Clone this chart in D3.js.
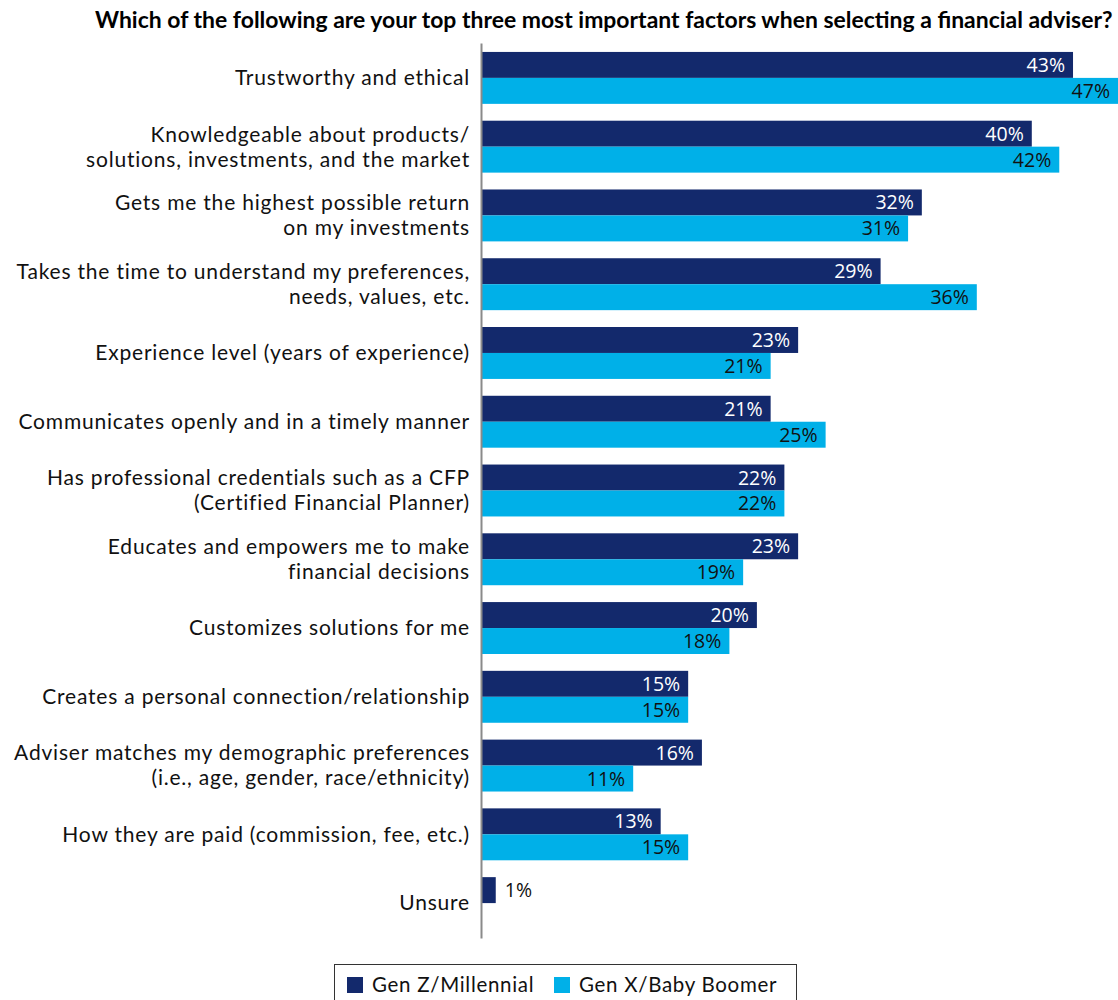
<!DOCTYPE html>
<html>
<head>
<meta charset="utf-8">
<script src="https://cdn.jsdelivr.net/npm/d3@7"></script>
<style>
  body { margin: 0; background: #fff; }
  svg { display: block; }
</style>
</head>
<body>
<svg id="chart" width="1118" height="1000"></svg>
<script>
// Survey question and answer categories (line breaks mark wrapped labels)
const title = "Which of the following are your top three most important factors when selecting a financial adviser?";
const categories = [
  "Trustworthy and ethical",
  "Knowledgeable about products/\nsolutions, investments, and the market",
  "Gets me the highest possible return\non my investments",
  "Takes the time to understand my preferences,\nneeds, values, etc.",
  "Experience level (years of experience)",
  "Communicates openly and in a timely manner",
  "Has professional credentials such as a CFP\n(Certified Financial Planner)",
  "Educates and empowers me to make\nfinancial decisions",
  "Customizes solutions for me",
  "Creates a personal connection/relationship",
  "Adviser matches my demographic preferences\n(i.e., age, gender, race/ethnicity)",
  "How they are paid (commission, fee, etc.)",
  "Unsure"
];
const seriesNames = ["Gen Z/Millennial", "Gen X/Baby Boomer"];
// Percent of respondents choosing each factor
const genZMillennial = [43, 40, 32, 29, 23, 21, 22, 23, 20, 15, 16, 13, 1];
const genXBabyBoomer = [47, 42, 31, 36, 21, 25, 22, 19, 18, 15, 11, 15, null];
const seriesColors = ["#13296c", "#00b0e8"];
const labelColors = ["#ffffff", "#111111"];

const W = 1118, H = 1000;
const svg = d3.select("#chart");

const x = d3.scaleLinear().domain([0, 47]).range([482, 1128]);
const y = d3.scaleBand().domain(categories).range([43, 938])
  .paddingInner(0.245).paddingOuter(0.13);
const ySub = d3.scaleBand().domain(seriesNames).range([0, y.bandwidth()]);

const rows = categories.map((c, i) => ({
  category: c,
  values: [
    { series: seriesNames[0], idx: 0, value: genZMillennial[i] },
    { series: seriesNames[1], idx: 1, value: genXBabyBoomer[i] }
  ].filter(d => d.value != null)
}));

// Title
const titleText = svg.append("text")
  .attr("x", 95).attr("y", 28)
  .attr("font-family", "Lato, sans-serif")
  .attr("font-weight", 700)
  .attr("font-size", 19)
  .attr("fill", "#000")
  .text(title);
const tw = titleText.node().getComputedTextLength();
titleText.attr("font-size", 19 * 1018 / tw);

// Bars
const groups = svg.append("g").selectAll("g").data(rows).join("g")
  .attr("transform", d => `translate(0,${y(d.category)})`);

groups.selectAll("rect").data(d => d.values).join("rect")
  .attr("x", x(0))
  .attr("y", d => ySub(d.series))
  .attr("width", d => x(d.value) - x(0))
  .attr("height", ySub.bandwidth())
  .attr("fill", d => seriesColors[d.idx]);

// Value labels
groups.selectAll("text.val").data(d => d.values).join("text")
  .attr("class", "val")
  .attr("font-family", "'Open Sans', sans-serif")
  .attr("font-size", 19.5)
  .attr("y", d => ySub(d.series) + ySub.bandwidth() / 2)
  .attr("dy", "0.36em")
  .each(function (d) {
    const t = d3.select(this);
    if (d.value >= 5) {
      t.attr("x", Math.min(x(d.value), W) - 8)
        .attr("text-anchor", "end")
        .attr("fill", labelColors[d.idx]);
    } else {
      t.attr("x", x(d.value) + 9)
        .attr("text-anchor", "start")
        .attr("fill", "#111");
    }
  })
  .text(d => d.value + "%");

// Category axis
const yAxis = d3.axisLeft(y).tickSize(0).tickPadding(0).tickFormat("");
const axisG = svg.append("g").attr("transform", `translate(${x(0) - 1},0)`).call(yAxis);
axisG.select(".domain").attr("stroke", "#8a8a8a").attr("stroke-width", 2);

svg.append("g").selectAll("text").data(categories).join("text")
  .attr("font-family", "Lato, sans-serif")
  .attr("font-size", 21)
  .attr("letter-spacing", "0.8px")
  .attr("fill", "#111")
  .attr("text-anchor", "end")
  .each(function (c) {
    const lines = c.split("\n");
    const cy = y(c) + y.bandwidth() / 2;
    const lh = 25;
    const t = d3.select(this);
    lines.forEach((ln, k) => {
      t.append("tspan")
        .attr("x", 470)
        .attr("y", cy + (k - (lines.length - 1) / 2) * lh)
        .attr("dy", "0.35em")
        .text(ln);
    });
  });

// Legend
const legend = svg.append("g");
legend.append("rect")
  .attr("x", 334.5).attr("y", 964.5)
  .attr("width", 462).attr("height", 45)
  .attr("fill", "none").attr("stroke", "#333").attr("stroke-width", 1);
const legendX = [347, 554];
seriesNames.forEach((name, i) => {
  legend.append("rect")
    .attr("x", legendX[i]).attr("y", 977)
    .attr("width", 16).attr("height", 16)
    .attr("fill", seriesColors[i]);
  legend.append("text")
    .attr("x", legendX[i] + 25).attr("y", 985)
    .attr("dy", "0.35em")
    .attr("font-family", "Lato, sans-serif")
    .attr("font-size", 20.5)
    .attr("letter-spacing", "0.7px")
    .attr("fill", "#111")
    .text(name);
});
</script>
</body>
</html>
